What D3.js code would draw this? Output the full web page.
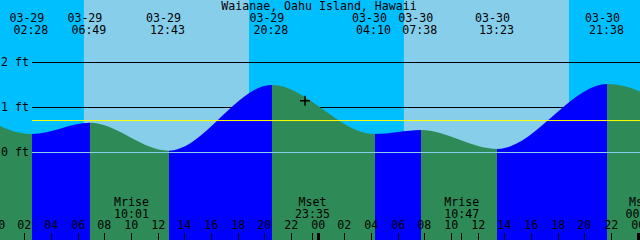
<!DOCTYPE html>
<html>
<head>
<meta charset="utf-8">
<script src="https://cdn.jsdelivr.net/npm/d3@7"></script>
<style>
  body { margin: 0; background: #fff; }
  svg { display: block; }
  text { font-family: "DejaVu Sans Mono", monospace; font-size: 11.6px; fill: #000; }
</style>
</head>
<body>
<div id="tide_graph"></div>
<script>
var title = "Waianae, Oahu Island, Hawaii"

// tide highs and lows (first and last are off the picture, guessed from the curve ends)
var tideDates = ["03-28", "03-29", "03-29", "03-29", "03-29", "03-30", "03-30", "03-30", "03-30", "03-31"]
var tideTimes = ["19:50", "02:28", "06:49", "12:43", "20:28", "04:10", "07:38", "13:23", "21:38", "05:00"]
var tideFeet = [1.45, 0.41, 0.66, 0.04, 1.50, 0.41, 0.50, 0.08, 1.52, 0.38]

// sunrise / sunset pairs
var dayDates = ["03-29", "03-30"]
var sunrise = ["06:22", "06:22"]
var sunset = ["18:45", "18:45"]

var moonNames = ["Mrise", "Mset", "Mrise", "Mset"]
var moonDates = ["03-29", "03-29", "03-30", "03-31"]
var moonTimes = ["10:01", "23:35", "10:47", "00:22"]

var gridFeet = [2, 1, 0]
var meanFeet = 0.71
var nowDate = "03-29", nowTime = "22:57", nowFeet = 1.15

var width = 640, height = 240

var parse = d3.utcParse("%Y-%m-%d %H:%M")
function when(d, t) { return parse("2000-" + d + " " + t) }

var start = when("03-29", "00:00"), end = when("03-31", "00:00")

var x = d3.scaleUtc().domain([start, end]).range([-1, 639])
var y = d3.scaleLinear().domain([0, 2]).range([152.5, 62.5])

var tide = tideTimes.map(function (t, i) {
  return { t: when(tideDates[i], t), h: tideFeet[i], date: tideDates[i], time: t }
})

var svg = d3.select("#tide_graph")
  .append("svg")
  .attr("width", width)
  .attr("height", height)

// sky: night everywhere, day bands on top
svg.append("rect")
  .attr("width", width).attr("height", height)
  .attr("fill", "#00bfff")

svg.selectAll(".day")
  .data(dayDates)
  .enter()
  .append("rect")
  .attr("x", (d, i) => x(when(d, sunrise[i])))
  .attr("width", (d, i) => x(when(d, sunset[i])) - x(when(d, sunrise[i])))
  .attr("y", 0)
  .attr("height", height)
  .attr("fill", "#87ceeb")

// foot lines sit behind the water
svg.selectAll(".grid")
  .data(gridFeet.filter(f => f > 0))
  .enter()
  .append("line")
  .attr("x1", 32).attr("x2", width)
  .attr("y1", d => y(d)).attr("y2", d => y(d))
  .attr("stroke", "#000")

// water: area used as clip, coloured by rising / falling
var area = d3.area()
  .x(d => x(d.t))
  .y0(height)
  .y1(d => y(d.h))
  .curve(d3.curveMonotoneX)

svg.append("clipPath")
  .attr("id", "water")
  .append("path")
  .attr("d", area(tide))

var water = svg.append("g").attr("clip-path", "url(#water)")
water.selectAll("rect")
  .data(tide.slice(1))
  .enter()
  .append("rect")
  .attr("x", (d, i) => x(tide[i].t))
  .attr("width", (d, i) => x(d.t) - x(tide[i].t))
  .attr("y", 0)
  .attr("height", height)
  .attr("fill", (d, i) => d.h > tide[i].h ? "#0000ff" : "#2e8b57")
  .attr("shape-rendering", "crispEdges")

// mean level and datum
svg.append("line")
  .attr("x1", 32).attr("x2", width)
  .attr("y1", y(meanFeet)).attr("y2", y(meanFeet))
  .attr("stroke", "#ffff00")
svg.append("line")
  .attr("x1", 32).attr("x2", width)
  .attr("y1", y(0)).attr("y2", y(0))
  .attr("stroke", "#87ceeb")

svg.selectAll(".ylab")
  .data(gridFeet)
  .enter()
  .append("text")
  .attr("x", 1)
  .attr("y", d => y(d) + 3.3)
  .text(d => d + " ft")

// title and tide event labels
svg.append("text")
  .attr("x", 319)
  .attr("y", 10)
  .attr("text-anchor", "middle")
  .text(title)

var shown = tide.filter(d => d.t >= start && d.t <= end)
svg.selectAll(".edate")
  .data(shown)
  .enter()
  .append("text")
  .attr("text-anchor", "middle")
  .attr("x", d => x(d.t) - 5)
  .attr("y", 21.7)
  .text(d => d.date)
svg.selectAll(".etime")
  .data(shown)
  .enter()
  .append("text")
  .attr("text-anchor", "middle")
  .attr("x", d => x(d.t) - 1)
  .attr("y", 34.3)
  .text(d => d.time)

// moon labels
var moon = moonTimes.map((t, i) => ({ t: when(moonDates[i], t), name: moonNames[i], time: t }))
svg.selectAll(".mname")
  .data(moon)
  .enter()
  .append("text")
  .attr("text-anchor", "middle")
  .attr("x", d => x(d.t) - 1)
  .attr("y", 206)
  .text(d => d.name)
svg.selectAll(".mtime")
  .data(moon)
  .enter()
  .append("text")
  .attr("text-anchor", "middle")
  .attr("x", d => x(d.t) - 1)
  .attr("y", 217.7)
  .text(d => d.time)

// hour axis along the bottom
var hours = d3.utcHour.every(2).range(start, new Date(+end + 1))
function col(t) { return Math.floor(x(t) - 1) }

svg.selectAll(".hlab")
  .data(hours)
  .enter()
  .append("text")
  .attr("text-anchor", "middle")
  .attr("x", d => col(d) + 0.2)
  .attr("y", 229.3)
  .text(d3.utcFormat("%H"))

svg.selectAll(".htick")
  .data(hours.concat(moon.map(d => d.t)))
  .enter()
  .append("line")
  .attr("x1", d => col(d) + 0.5).attr("x2", d => col(d) + 0.5)
  .attr("y1", 233).attr("y2", height)
  .attr("stroke", "#000")

svg.selectAll(".midnight")
  .data(d3.utcDay.range(start, new Date(+end + 1)))
  .enter()
  .append("rect")
  .attr("x", d => col(d) - 1)
  .attr("width", 3)
  .attr("y", 233)
  .attr("height", height - 233)
  .attr("fill", "#000")

// current time mark
var nx = x(when(nowDate, nowTime)), ny = y(nowFeet)
svg.append("path")
  .attr("d", "M" + (nx - 5) + "," + ny + "H" + (nx + 5) + "M" + nx + "," + (ny - 5) + "V" + (ny + 5))
  .attr("stroke", "#000")
  .attr("stroke-width", 1.5)
</script>
</body>
</html>
